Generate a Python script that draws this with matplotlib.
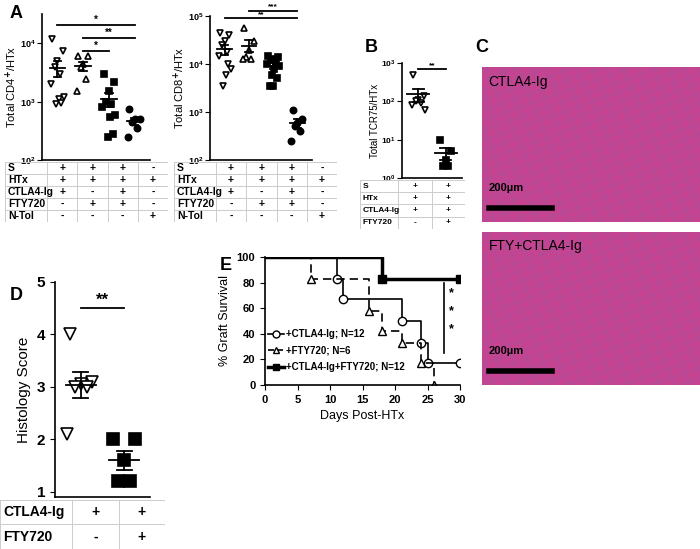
import numpy as np
import matplotlib.pyplot as plt

plt.rcParams['font.family'] = ['Liberation Sans', 'DejaVu Sans']
plt.rcParams['font.weight'] = 'bold'

W, H = 700, 549

# ---- data ----
cd4 = [[12000, 7500, 5000, 4000, 3000, 2000, 1200, 1100, 900, 950],
       [6000, 6000, 4500, 4000, 2500, 1500],
       [3000, 2200, 1500, 1000, 900, 800, 600, 550, 250, 280],
       [750, 500, 500, 450, 350, 250]]
cd8 = [[45000, 40000, 30000, 25000, 18000, 15000, 8000, 6000, 3500, 10000],
       [55000, 30000, 20000, 14000, 13000, 13000],
       [15000, 14000, 13000, 12000, 11000, 10000, 9000, 8000, 6000, 5000, 3500, 3500],
       [1100, 700, 600, 500, 400, 250]]
tcr = [[500, 140, 110, 100, 90, 80, 60], [10, 5, 3, 2, 2]]
hist = [[4.0, 3.1, 3.05, 3.0, 3.0, 2.1], [2.0, 2.0, 1.6, 1.2, 1.2]]
table_a_rows = ['S', 'HTx', 'CTLA4-Ig', 'FTY720', 'N-Tol']
table_a = [['+', '+', '+', '-'], ['+', '+', '+', '+'], ['+', '-', '+', '-'],
           ['-', '+', '+', '-'], ['-', '-', '-', '+']]
table_b_rows = ['S', 'HTx', 'CTLA4-Ig', 'FTY720']
table_b = [['+', '+'], ['+', '+'], ['+', '+'], ['-', '+']]
table_d_rows = ['CTLA4-Ig', 'FTY720']
table_d = [['+', '+'], ['-', '+']]
surv_ctla_t = [0, 11, 12, 21, 24, 25, 30]
surv_ctla = [100, 83, 67, 50, 33, 17, 17]
surv_fty_t = [0, 7, 16, 18, 21, 24, 26]
surv_fty = [100, 83, 58, 42, 33, 17, 0]
surv_comb_t = [0, 18, 30]
surv_comb = [100, 83, 83]

fig = plt.figure(figsize=(7, 5.49), dpi=100)


def ax_px(x0, y0, x1, y1):
    return fig.add_axes([x0 / W, 1 - y1 / H, (x1 - x0) / W, (y1 - y0) / H])


def ftext(x, y, s, **kw):
    fig.text(x / W, 1 - y / H, s, **kw)


def table(x0, y0, x1, y1, col0w, rows, cells, fs=7.5):
    ax = ax_px(x0, y0, x1, y1)
    ax.set_xlim(x0, x1)
    ax.set_ylim(y1, y0)
    ax.axis('off')
    nr = len(rows)
    nc = len(cells[0])
    rh = (y1 - y0) / nr
    cw = (x1 - x0 - col0w) / nc
    for i in range(nr + 1):
        ax.plot([x0, x1], [y0 + i * rh] * 2, color='#cccccc', lw=0.7)
    for xx in [x0, x0 + col0w] + [x0 + col0w + j * cw for j in range(1, nc + 1)]:
        ax.plot([xx, xx], [y0, y1], color='#cccccc', lw=0.7)
    for i, r in enumerate(rows):
        ax.text(x0 + 3, y0 + (i + 0.5) * rh, r, va='center', fontsize=fs)
        for j, c in enumerate(cells[i]):
            ax.text(x0 + col0w + (j + 0.5) * cw, y0 + (i + 0.5) * rh, c,
                    va='center', ha='center', fontsize=fs)


def style(ax):
    for s in ['top', 'right']:
        ax.spines[s].set_visible(False)
    ax.spines['left'].set_linewidth(1.2)
    ax.spines['bottom'].set_linewidth(1.2)


markers = ['v', '^', 's', 'o']
fills = ['white', 'white', 'black', 'black']
jit = [-0.2, 0.2, 0.0, -0.1, 0.1, -0.25, 0.25, 0.05, -0.05, 0.15, -0.15, 0.0]


def scatter_panel(ax, groups, mk, fl, ms=6, w=0.3, sc=1.0):
    for i, g in enumerate(groups):
        n = len(g)
        o = np.array(jit[:n]) * sc
        ax.plot(o + i, g, ls='none', marker=mk[i], mfc=fl[i],
                mec='black', mew=1.2, ms=ms)
        m = np.mean(g)
        se = np.std(g, ddof=1) / np.sqrt(n)
        ax.plot([i - w, i + w], [m, m], color='black', lw=1.3)
        ax.plot([i - w / 2, i + w / 2], [m + se] * 2, color='black', lw=1.3)
        ax.plot([i - w / 2, i + w / 2], [m - se] * 2, color='black', lw=1.3)
        ax.plot([i, i], [m - se, m + se], color='black', lw=1.3)


def sig(ax, x0, x1, y, s, fs=8):
    ax.plot([x0, x1], [y, y], color='black', lw=1.3, clip_on=False)
    ax.text((x0 + x1) / 2, y, s, ha='center', va='bottom', fontsize=fs, clip_on=False)


# ---- A left ----
ax = ax_px(42, 14, 150, 160)
scatter_panel(ax, cd4, markers, fills, ms=4.5)
ax.set_yscale('log')
ax.set_ylim(100, 3.2e4)
ax.set_xlim(-0.6, 3.6)
ax.set_xticks([])
ax.set_yticks([1e2, 1e3, 1e4])
ax.tick_params(labelsize=6.5, which='both', pad=1)
ax.minorticks_off()
ax.set_ylabel('Total CD4$^{+}$/HTx', fontsize=8, labelpad=1)
style(ax)
sig(ax, 0, 3, 2.1e4, '*', fs=7)
sig(ax, 1, 3, 1.25e4, '**', fs=7)
sig(ax, 1, 2, 7500, '*', fs=7)
table(5, 162, 168, 222, 42, table_a_rows, table_a)

# ---- A right ----
ax = ax_px(210, 16, 312, 160)
scatter_panel(ax, cd8, markers, fills, ms=4.5)
ax.set_yscale('log')
ax.set_ylim(100, 1e5)
ax.set_xlim(-0.6, 3.6)
ax.set_xticks([])
ax.set_yticks([1e2, 1e3, 1e4, 1e5])
ax.minorticks_off()
ax.tick_params(labelsize=6.5, pad=1)
ax.set_ylabel('Total CD8$^{+}$/HTx', fontsize=8, labelpad=1)
style(ax)
sig(ax, 0, 3, 9e4, '**', fs=6)
sig(ax, 1, 3, 1.3e5, '***', fs=6)
table(174, 162, 337, 222, 42, table_a_rows, table_a)

# ---- B ----
ax = ax_px(402, 63, 462, 178)
scatter_panel(ax, tcr, ['v', 's'], ['white', 'black'], ms=4, w=0.4)
ax.set_yscale('log')
ax.set_ylim(1, 1000)
ax.set_xlim(-0.6, 1.6)
ax.set_xticks([])
ax.set_yticks([1, 10, 100, 1000])
ax.minorticks_off()
ax.tick_params(labelsize=6, pad=1)
ax.set_ylabel('Total TCR75/HTx', fontsize=7, fontweight='normal', labelpad=1)
style(ax)
sig(ax, 0, 1, 700, '**', fs=6)
table(360, 180, 465, 229, 38, table_b_rows, table_b, fs=6)

# ---- C images ----
for (y0, y1, lab) in [(67, 222, 'CTLA4-Ig'), (232, 385, 'FTY+CTLA4-Ig')]:
    ax = ax_px(482, y0, 700, y1)
    xx, yy = np.meshgrid(np.linspace(0, 30, 200), np.linspace(0, 20, 150))
    tex = 0.5 + 0.25 * np.sin(xx * 2.3 + yy * 1.7) * np.cos(yy * 3.1 - xx * 0.7)
    base = np.array([0.82, 0.25, 0.55])
    dark = np.array([0.55, 0.35, 0.65])
    img = base[None, None, :] * (1 - tex[..., None] * 0.5) + dark[None, None, :] * tex[..., None] * 0.5
    ax.imshow(np.clip(img, 0, 1), aspect='auto', extent=[0, 1, 0, 1])
    ax.axis('off')
    ax.text(0.03, 0.88, lab, transform=ax.transAxes, fontsize=10, fontweight='normal')
    ax.text(0.03, 0.2, '200µm', transform=ax.transAxes, fontsize=8)
    ax.plot([0.03, 0.32], [0.09, 0.09], color='black', lw=4, transform=ax.transAxes)

# ---- D ----
ax = ax_px(55, 282, 150, 497)
scatter_panel(ax, hist, ['v', 's'], ['white', 'black'], ms=8, w=0.35, sc=1.3)
ax.set_ylim(0.9, 5)
ax.set_xlim(-0.6, 1.6)
ax.set_xticks([])
ax.set_yticks([1, 2, 3, 4, 5])
ax.tick_params(labelsize=11)
ax.set_ylabel('Histology Score', fontsize=11)
style(ax)
sig(ax, 0, 1, 4.5, '**', fs=12)
table(0, 500, 165, 549, 72, table_d_rows, table_d, fs=10)

# ---- E ----
ax = ax_px(265, 257, 460, 385)
ax.step(surv_ctla_t, surv_ctla, where='post', color='black', lw=1.2)
ax.plot(surv_ctla_t[1:], surv_ctla[1:], ls='none', marker='o', mfc='white', mec='black', ms=6)
ax.step(surv_fty_t, surv_fty, where='post', color='black', lw=1.2, ls=(0, (5, 3)))
ax.plot(surv_fty_t[1:], surv_fty[1:], ls='none', marker='^', mfc='white', mec='black', ms=6)
ax.step(surv_comb_t, surv_comb, where='post', color='black', lw=2.5)
ax.plot(surv_comb_t[1:], surv_comb[1:], ls='none', marker='s', mfc='black', mec='black', ms=6)
ax.set_xlim(0, 30)
ax.set_ylim(0, 100)
ax.set_xticks(range(0, 31, 5))
ax.set_yticks(range(0, 101, 20))
ax.tick_params(labelsize=8)
ax.set_xlabel('Days Post-HTx', fontsize=9)
ax.set_ylabel('% Graft Survival', fontsize=9)
style(ax)
ax.plot([27.5, 27.5], [25, 80], color='black', lw=1.2)
for yv in [72, 58, 44]:
    ax.text(28.7, yv, '*', fontsize=9, ha='center', va='center')
leg = [('+CTLA4-Ig; N=12', 'o', 'white', '-', 1.2, 40),
       ('+FTY720; N=6', '^', 'white', '--', 1.2, 27),
       ('+CTLA4-Ig+FTY720; N=12', 's', 'black', '-', 2.5, 14)]
for lab, mk, fc, ls, lw, yv in leg:
    ax.plot([0.5, 2.9], [yv, yv], color='black', lw=lw, ls=ls)
    ax.plot([1.7], [yv], marker=mk, mfc=fc, mec='black', ms=5)
    ax.text(3.3, yv, lab, fontsize=7, va='center')

# panel letters
for (x, y, s) in [(10, 14, 'A'), (365, 48, 'B'), (475, 48, 'C'), (10, 295, 'D'), (220, 265, 'E')]:
    ftext(x, y, s, fontsize=13, fontweight='bold', va='center')

fig.savefig('out.png')
